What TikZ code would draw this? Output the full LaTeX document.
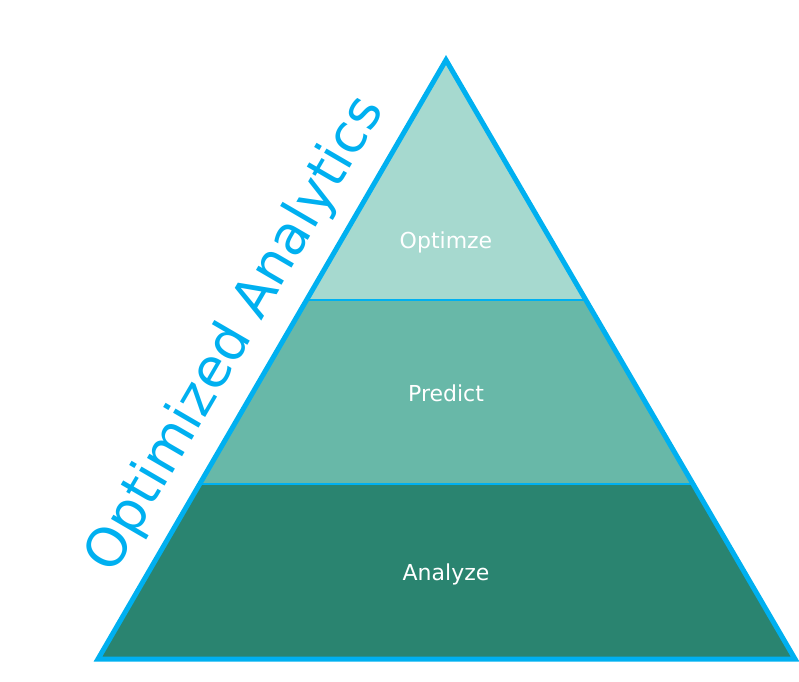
\documentclass[tikz,border=0pt]{standalone}
\usepackage{fontspec}
\setmainfont{DejaVu Sans}
\definecolor{cy}{RGB}{0,176,240}
\definecolor{c1}{RGB}{166,217,207}
\definecolor{c2}{RGB}{104,184,168}
\definecolor{c3}{RGB}{42,132,112}
\begin{document}
\begin{tikzpicture}[x=1pt,y=-1pt,
  lbl/.style={text=white,font=\fontsize{22}{22}\selectfont}]
\useasboundingbox (0,0) rectangle (799,681);
\coordinate (A) at (446,60);
\coordinate (L) at (98,659);
\coordinate (R) at (795,659);
\coordinate (L1) at (306.6,300);
\coordinate (R1) at (585.6,300);
\coordinate (L2) at (199.7,484);
\coordinate (R2) at (692.6,484);
\fill[c1] (A) -- (R1) -- (L1) -- cycle;
\fill[c2] (L1) -- (R1) -- (R2) -- (L2) -- cycle;
\fill[c3] (L2) -- (R2) -- (R) -- (L) -- cycle;
\draw[line width=1.2pt,cy] (L1) -- (R1) (L2) -- (R2);
\draw[line width=5pt,line join=miter,cy] (A) -- (R) -- (L) -- cycle;
\node[lbl] (o) at (446,242) {Optimze};
\node[lbl] (p) at (446,393) {Predict};
\node[lbl] (a) at (446,574) {Analyze};
\node[text=cy,rotate=59.8,font=\fontsize{54}{54}\selectfont] (t) at (236,335) {Optimized Analytics};
\end{tikzpicture}
\end{document}
